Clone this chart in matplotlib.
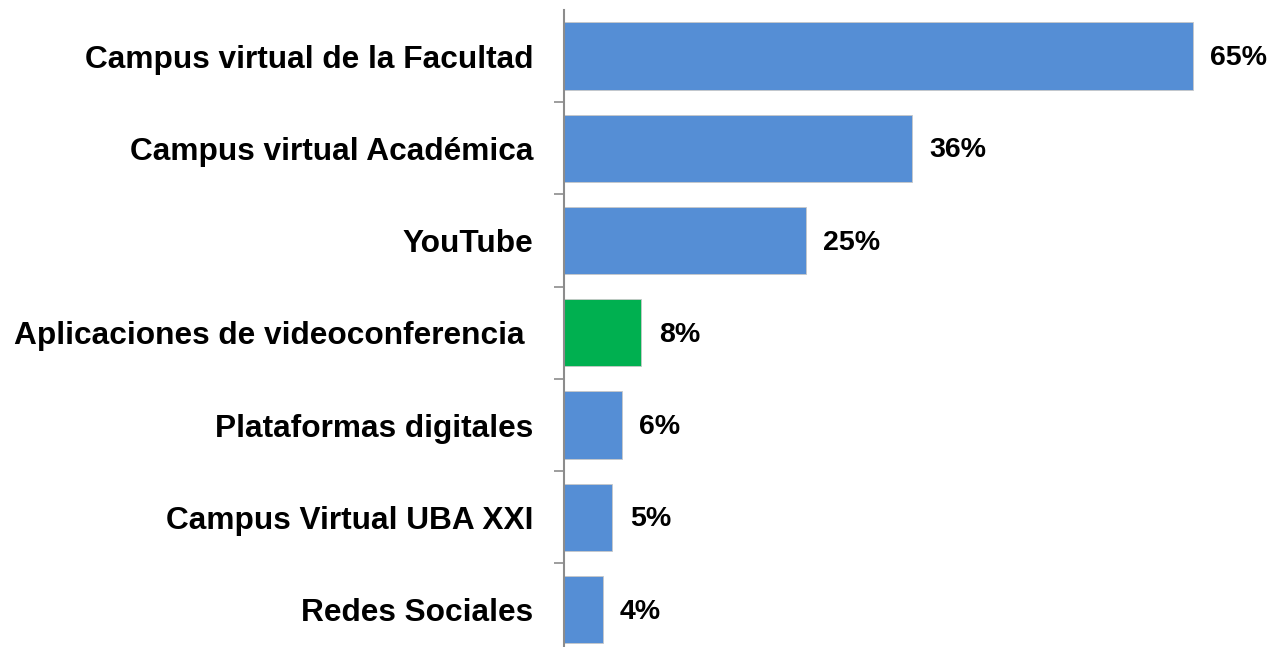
import numpy as np
from matplotlib import pyplot as plt

# data
categories = ["Campus virtual de la Facultad", "Campus virtual Académica", "YouTube",
              "Aplicaciones de videoconferencia ", "Plataformas digitales",
              "Campus Virtual UBA XXI", "Redes Sociales"]
values = [65, 36, 25, 8, 6, 5, 4]
labels = ["65%", "36%", "25%", "8%", "6%", "5%", "4%"]
highlight = "Aplicaciones de videoconferencia "

plt.rcParams['font.family'] = ['Liberation Sans', 'DejaVu Sans']

fig = plt.figure(figsize=(12.74, 6.47), dpi=100)
ax = fig.add_axes([0.4427, -0.0133, 0.5573, 0.9978])

y = np.arange(len(categories))
colors = ["#00B050" if c == highlight else "#558ED5" for c in categories]
ax.barh(y, values, height=0.73, color=colors, edgecolor="#C8C8C8", linewidth=0.6)

# value labels to the right of each bar
for yi, v, lab in zip(y, values, labels):
    ax.annotate(lab, (v, yi), xytext=(12.5, -1.5), textcoords="offset points",
                va="center", ha="left", fontsize=20.5, fontweight="bold")

ax.set_ylim(len(categories) - 0.5, -0.5)
ax.set_xlim(0, 73.4)
ax.set_yticks(y)
ax.set_yticklabels(categories, fontsize=22.8, fontweight="bold")
ax.tick_params(axis="y", which="major", length=0, pad=22)
ax.set_yticks(np.arange(1, len(categories) + 1) - 0.5, minor=True)
ax.tick_params(axis="y", which="minor", length=7, width=1.2, color="#8C8C8C")
ax.set_xticks([])
for s in ["top", "right", "bottom"]:
    ax.spines[s].set_visible(False)
ax.spines["left"].set_color("#8C8C8C")
ax.spines["left"].set_linewidth(1.5)

fig.savefig("out.png", dpi=100)
